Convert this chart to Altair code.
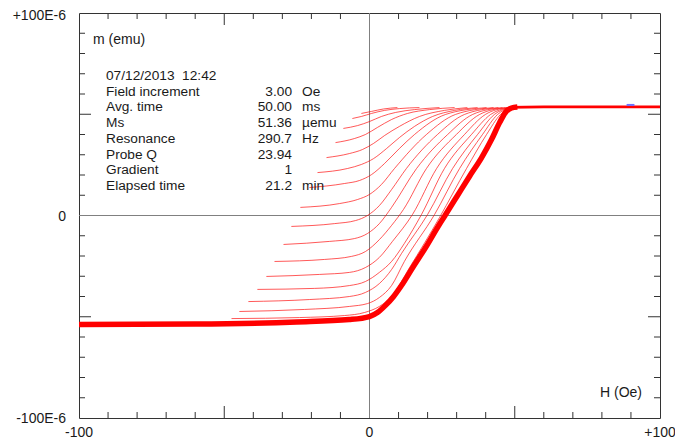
import altair as alt
import pandas as pd

# ---------------- data ----------------
# major ascending branch (thick band: the Hr <= -50 Oe curves overlap here)
major_H = [-100, -60, -25, -7, 0, 2.75, 5.5, 8.3, 11.0, 15.1, 19.3, 23.4, 26.2, 30.3, 34.4, 38.6,
           42.0, 44.8, 46.8, 48.9, 50.9]
major_m = [-53.8, -53.6, -52.6, -51.4, -49.9, -47.9, -44.4, -40.0, -34.6, -25.2, -15.8, -5.9, 0.5, 9.9,
           19.3, 28.6, 37.5, 45.9, 50.9, 53.1, 53.6]

# positive saturation plateau
sat_H = [48.0, 60.0, 80.0, 100.0]
sat_m = [53.4, 53.6, 53.6, 53.6]

# first-order reversal curves (applied field H in Oe, moment m in 1E-6 emu)
forc_H = [
    [-47.5, -24.1, -8.6, -1.7, 3.4, 7.6, 13.8, 24.1, 33.4, 40.3, 45.1, 48.9],
    [-44.8, -22.4, -6.9, -0.7, 3.4, 7.6, 12.0, 22.4, 31.0, 38.9, 44.1, 48.5],
    [-41.7, -20.7, -6.9, -1.4, 3.4, 7.6, 11.0, 20.0, 28.6, 37.2, 43.0, 48.2],
    [-38.6, -18.9, -6.9, -1.4, 3.4, 7.6, 12.0, 17.9, 25.8, 35.1, 41.7, 47.8],
    [-35.5, -17.2, -6.9, -1.4, 3.4, 7.9, 14.8, 23.1, 32.7, 39.9, 47.5],
    [-32.7, -15.5, -6.2, -1.4, 3.4, 7.6, 11.7, 19.6, 29.9, 37.9, 46.8],
    [-29.6, -13.8, -5.2, -0.7, 3.4, 7.6, 16.2, 26.9, 35.5, 45.8],
    [-26.9, -12.0, -4.8, -0.7, 3.4, 7.6, 12.7, 23.4, 32.7, 44.4],
    [-23.8, -10.3, -4.1, 0.0, 4.1, 8.6, 19.6, 29.6, 42.7],
    [-20.7, -8.6, -3.4, 0.7, 5.2, 10.3, 15.5, 26.2, 40.3],
    [-17.9, -7.6, -2.8, 1.4, 5.9, 10.3, 15.5, 21.7, 29.3, 37.2],
    [-14.8, -6.9, -2.4, 1.4, 5.2, 10.3, 17.2, 25.8, 33.7],
    [-11.7, -5.2, -1.4, 2.75, 7.6, 13.1, 20.7, 29.3],
    [-9.0, -4.1, 0.0, 4.1, 9.0, 15.5, 24.1],
    [-5.9, -2.8, 0.7, 5.2, 10.3, 17.2],
    [-2.8, 0.7, 4.8, 9.6],
]
forc_m = [
    [-50.9, -50.4, -49.4, -47.9, -44.9, -40.0, -25.7, -1.0, 23.2, 40.0, 49.9, 53.3],
    [-47.4, -46.4, -44.9, -43.5, -40.5, -34.6, -22.7, 0.5, 23.2, 40.0, 49.9, 53.3],
    [-42.5, -41.5, -40.0, -38.0, -33.6, -26.7, -18.8, 0.5, 23.2, 40.0, 49.9, 53.3],
    [-36.5, -36.0, -34.6, -32.6, -28.1, -22.7, -13.8, 0.5, 23.2, 40.0, 49.9, 53.3],
    [-30.1, -29.1, -28.1, -25.7, -20.7, -12.8, 0.5, 23.2, 40.0, 49.9, 53.3],
    [-22.7, -21.7, -20.2, -17.8, -11.9, -4.9, 3.0, 23.2, 40.0, 49.9, 53.3],
    [-14.3, -12.8, -11.4, -8.9, -4.0, 4.0, 23.2, 40.0, 49.9, 53.3],
    [-5.4, -4.0, -2.5, 0.0, 4.9, 12.8, 23.2, 40.0, 49.9, 53.3],
    [4.0, 5.9, 7.9, 10.4, 15.3, 23.2, 40.0, 49.9, 53.3],
    [13.8, 15.8, 17.3, 20.2, 25.7, 33.1, 40.0, 49.9, 53.3],
    [21.2, 23.2, 25.2, 28.1, 33.1, 38.5, 44.0, 48.9, 51.9, 53.3],
    [28.6, 30.6, 32.6, 35.6, 39.5, 44.0, 48.9, 51.9, 53.3],
    [36.0, 38.0, 40.0, 43.5, 47.4, 50.4, 52.3, 53.3],
    [43.0, 44.4, 46.4, 48.9, 50.9, 52.3, 53.3],
    [47.9, 48.9, 50.4, 51.9, 52.8, 53.3],
    [50.4, 51.4, 52.6, 53.3],
]

# tiny blue segment near the right end of the plateau
blue_H = [88.5, 91.2]
blue_m = [54.6, 54.6]

# axes
x_minor_ticks = [-90, -80, -70, -60, -40, -30, -20, -10, 10, 20, 30, 40, 60, 70, 80, 90]
x_major_ticks = [-50, 50]
y_minor_ticks = [-90, -80, -70, -60, -40, -30, -20, -10, 10, 20, 30, 40, 60, 70, 80, 90]
y_major_ticks = [-50, 50]
x_label_vals = [-100, 0, 100]
x_label_text = ["-100", "0", "+100"]
y_label_vals = [0, -100]
y_label_text = ["0", "-100E-6"]
y_top_val = [100]
y_top_text = ["+100E-6"]

# info block
info_date = "07/12/2013\u00a0\u00a012:42"
info_names = ["Field increment", "Avg. time", "Ms", "Resonance", "Probe Q", "Gradient", "Elapsed time"]
info_values = ["3.00", "50.00", "51.36", "290.7", "23.94", "1", "21.2"]
info_units = ["Oe", "ms", "\u00b5emu", "Hz", "", "", "min"]

# ---------------- chart ----------------
W, HT = 581, 405
FONT = "Liberation Sans"
TXT = "#1a1a1a"
TICK = "#333333"
RED = "#ff0000"

xs = alt.Scale(domain=[-100, 100], nice=False, zero=False)
ys = alt.Scale(domain=[-100, 100], nice=False, zero=False)

rows = []
for i, (hs, ms) in enumerate(zip(forc_H, forc_m)):
    for j, (h, m) in enumerate(zip(hs, ms)):
        rows.append({"curve": f"c{i:02d}", "H": h, "m": m, "k": j})
df_forc = pd.DataFrame(rows)
df_major = pd.DataFrame({"H": major_H, "m": major_m})
df_sat = pd.DataFrame({"H": sat_H, "m": sat_m})
df_blue = pd.DataFrame({"H": blue_H, "m": blue_m})

X = alt.X("H:Q", scale=xs, axis=None)
Y = alt.Y("m:Q", scale=ys, axis=None)

layers = []

# zero lines
zero = pd.DataFrame({"v": [0]})
layers.append(alt.Chart(zero).mark_rule(color="#808080", strokeWidth=1).encode(
    x=alt.X("v:Q", scale=xs, axis=None), y=alt.value(0), y2=alt.value(HT)))
layers.append(alt.Chart(zero).mark_rule(color="#808080", strokeWidth=1).encode(
    y=alt.Y("v:Q", scale=ys, axis=None), x=alt.value(0), x2=alt.value(W)))

# ticks (inside the frame)
def xticks(vals, ln):
    d = pd.DataFrame({"v": vals})
    xe = alt.X("v:Q", scale=xs, axis=None)
    return [
        alt.Chart(d).mark_rule(color=TICK, strokeWidth=1).encode(x=xe, y=alt.value(HT), y2=alt.value(HT - ln)),
        alt.Chart(d).mark_rule(color=TICK, strokeWidth=1).encode(x=xe, y=alt.value(0), y2=alt.value(ln)),
    ]

def yticks(vals, ln):
    d = pd.DataFrame({"v": vals})
    ye = alt.Y("v:Q", scale=ys, axis=None)
    return [
        alt.Chart(d).mark_rule(color=TICK, strokeWidth=1).encode(y=ye, x=alt.value(0), x2=alt.value(ln)),
        alt.Chart(d).mark_rule(color=TICK, strokeWidth=1).encode(y=ye, x=alt.value(W), x2=alt.value(W - ln)),
    ]

layers += xticks(x_minor_ticks, 6) + xticks(x_major_ticks, 12)
layers += yticks(y_minor_ticks, 6) + yticks(y_major_ticks, 12)

# curves
layers.append(alt.Chart(df_forc).mark_line(interpolate="monotone", color=RED, strokeWidth=1, opacity=0.65).encode(
    x=X, y=Y, detail="curve:N", order="k:Q"))
layers.append(alt.Chart(df_sat).mark_line(color=RED, strokeWidth=2.8).encode(x=X, y=Y))
layers.append(alt.Chart(df_major).mark_line(interpolate="monotone", color=RED, strokeWidth=5.5).encode(x=X, y=Y))
layers.append(alt.Chart(df_blue).mark_line(color="#7070ff", strokeWidth=2).encode(x=X, y=Y))

# tick labels
layers.append(alt.Chart(pd.DataFrame({"v": x_label_vals, "t": x_label_text})).mark_text(
    font=FONT, fontSize=14, color=TXT, align="center", baseline="middle").encode(
    x=alt.X("v:Q", scale=xs, axis=None), y=alt.value(HT + 15), text="t:N"))
layers.append(alt.Chart(pd.DataFrame({"v": y_label_vals, "t": y_label_text})).mark_text(
    font=FONT, fontSize=14, color=TXT, align="right", baseline="middle", dy=1).encode(
    y=alt.Y("v:Q", scale=ys, axis=None), x=alt.value(-13), text="t:N"))
layers.append(alt.Chart(pd.DataFrame({"v": y_top_val, "t": y_top_text})).mark_text(
    font=FONT, fontSize=14, color=TXT, align="right", baseline="middle", dy=3).encode(
    y=alt.Y("v:Q", scale=ys, axis=None), x=alt.value(-13), text="t:N"))

# axis titles
one = pd.DataFrame({"a": [0]})
def label(txt, px, py, align="left", size=14):
    return alt.Chart(one).mark_text(font=FONT, fontSize=size, color=TXT, align=align, baseline="middle",
                                    text=txt).encode(x=alt.value(px), y=alt.value(py))

layers.append(label("m (emu)", 14, 27))
layers.append(label("H (Oe)", 563, 380, align="right"))

# info block
row_y0, row_dy = 63, 15.7
layers.append(label(info_date, 27, row_y0, size=13.7))
for i, (n, v, u) in enumerate(zip(info_names, info_values, info_units)):
    yy = row_y0 + (i + 1) * row_dy
    layers.append(label(n, 27, yy, size=13.7))
    layers.append(label(v, 213, yy, align="right", size=13.7))
    if u:
        layers.append(label(u, 223, yy, size=13.7))

chart = alt.layer(*layers).properties(
    width=W, height=HT,
    padding={"left": 71, "top": 5, "right": 15, "bottom": 21},
    autosize=alt.AutoSizeParams(type="none"),
    background="white",
).configure_view(stroke="#333333", strokeWidth=1)

chart.save("out.html", embed_options={"renderer": "svg", "actions": False})
